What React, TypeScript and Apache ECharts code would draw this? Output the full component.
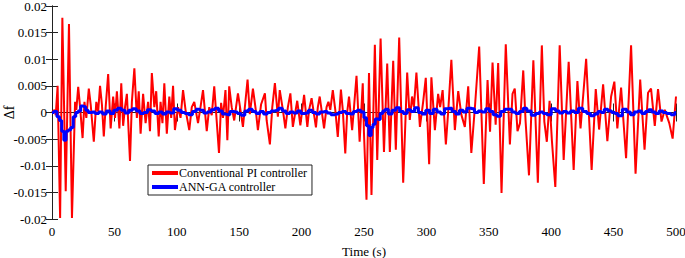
import React, { useEffect, useRef } from "react";
import * as echarts from "echarts";

const xTicks = [0, 50, 100, 150, 200, 250, 300, 350, 400, 450, 500];
const yMin = -0.02;
const yMax = 0.02;

const redTime = [
  0, 2, 3, 4.5, 6.5, 8.3, 11, 13.6, 16, 18.5, 19.5, 21, 22.5, 24.5, 26, 27.5, 29.5, 31, 33.5, 35.5,
  37, 38.5, 40, 41.5, 43, 45, 47, 49, 50.5, 52, 54, 55.5, 57, 58.5, 60, 62.5, 64, 66, 68, 69.5,
  71, 73, 75, 77, 78.5, 80, 82, 83.5, 85.5, 87, 88.5, 90, 92, 94, 95.5, 97, 98.5, 101, 103, 105,
  107, 110, 112, 114, 117, 119, 121, 124, 126, 128, 130, 133.8, 135.5, 137, 139, 140.5, 142, 144, 146, 149,
  151, 153, 156.7, 158.5, 161, 163, 165, 167.5, 170.6, 172, 174.6, 176.5, 178.6, 181, 182.5, 185, 187, 189,
  191, 193, 196.5, 199, 202, 204.6, 206, 208, 211.5, 213, 214.5, 216, 218, 220, 221.5, 223, 225, 227,
  229, 231.5, 233, 235, 236.5, 238, 240.5, 242, 244, 246.5, 249, 250, 252, 254, 256, 258.7, 260.6, 263.3,
  266, 268.6, 270.7, 273.4, 275.5, 278.2, 281.4, 284.6, 286.7, 288.5, 290, 292, 294.8, 297.4, 299.5, 302.2, 304, 306.8,
  309.4, 311, 313, 315.6, 317.5, 320, 322.8, 325.5, 328, 330.8, 333.5, 336, 339, 342.3, 346, 349, 351, 353,
  355.5, 357.5, 360.2, 363.6, 366.9, 369, 370.8, 373, 375, 377.6, 379.5, 382.2, 385.7, 389.3, 392.5, 394.5, 396.5, 398.7,
  400.6, 403.3, 406.8, 410, 414, 418, 421, 423.5, 428, 432.4, 435.7, 438.4, 441.6, 445, 448, 450.6, 453, 456,
  460, 464, 467.6, 471.3, 474.8, 477.6, 480, 483, 485.6, 488.4, 491, 494.6, 497.3, 500,
];

const redValue = [
  0, 0.0005, -0.0005, 0.005, -0.0198, 0.0178, -0.0148, 0.0166, -0.0198, 0.002, 0.0005, 0.0048, 0.001, -0.0048, 0.002, -0.001, 0.0045, 0.0015, -0.0055, 0.002,
  0.0002, 0.005, 0.0015, -0.0045, 0.001, 0.0072, -0.003, 0.003, -0.001, 0.004, -0.003, 0.0055, -0.0025, 0.001, 0.0035, -0.0091, 0.002, 0.0083, -0.001, 0.004,
  -0.004, 0.0035, -0.002, 0.002, -0.0035, 0.0074, 0.001, 0.004, -0.0045, 0.002, -0.002, 0.0055, -0.004, 0.003, -0.001, 0.005, -0.0033, 0.001, -0.001, 0.0042,
  0.0005, -0.0033, 0.001, 0.002, -0.002, 0.001, 0.0042, -0.0035, 0.001, -0.0005, 0.0049, -0.0076, 0.0018, -0.001, 0.0042, -0.0052, 0.0049, 0.001, -0.0015, 0.0036,
  0.0005, -0.0027, 0.0062, -0.0003, 0.0045, 0.001, -0.0033, 0.0015, 0.0036, -0.0015, -0.006, 0.001, 0.0055, -0.0008, 0.0042, 0.0005, -0.003, 0.001,
  0.0036, -0.0027, 0.0022, -0.0024, 0.0033, -0.0027, 0.0005, 0.0027, -0.0028, 0.001, 0.003, 0.0005, -0.003, 0.001, 0.002, 0.0005, 0.0042, 0.0005,
  -0.0046, 0.0043, 0.0005, -0.0077, 0, 0.003, -0.0033, 0.001, 0.0069, -0.0055, 0.0055, -0.004, -0.0164, 0.0074, -0.0155, 0.0127, -0.0089, 0.0139,
  -0.0074, 0.0092, -0.0074, 0.0097, -0.007, 0.0141, -0.0132, 0.0075, -0.0014, 0.003, 0.001, 0.0075, -0.0027, 0.002, 0.0065, -0.0097, 0.0066, -0.0033,
  0.0035, 0.001, 0.0042, -0.006, 0.0003, 0.0099, -0.0033, 0.004, -0.0004, -0.0027, 0.0049, -0.0076, 0.0014, 0.0124, -0.0134, 0.0061, -0.0036, 0.0094,
  -0.0023, 0.0093, -0.0151, 0.0128, -0.006, 0.0035, 0.0045, -0.0035, -0.002, 0.0079, -0.0017, -0.0118, 0.0098, -0.0132, 0.0126, -0.0017, -0.0055, 0.0022,
  -0.0054, -0.014, 0.0126, -0.0089, 0.0095, -0.0108, 0.0059, -0.003, 0.0101, -0.0108, 0.0044, -0.0032, 0.0053, -0.0054, 0.003, 0.0058, -0.003, 0.0047,
  -0.0086, 0.0126, -0.0115, 0.0062, -0.007, 0.0037, 0.0045, -0.0025, 0.0044, -0.0017, 0.0005, -0.002, -0.0049, 0.003,
];

const blueTime = [
  0, 3, 5, 7, 8.5, 10.5, 12, 14, 16, 18, 20, 22, 24, 26, 28, 30, 33, 36, 39, 42,
  45, 48, 51, 54, 57, 60, 63, 66, 69, 72, 75, 78, 81, 84, 87, 90, 93, 96, 99, 102,
  105, 108, 111, 114, 117, 120, 123, 126, 129, 132, 135, 138, 141, 144, 147, 150, 153, 156, 159, 162,
  165, 168, 171, 174, 177, 180, 183, 186, 189, 192, 195, 198, 201, 204, 207, 210, 213, 216, 219, 222,
  225, 228, 231, 234, 237, 240, 243, 246, 249, 251, 253, 255, 256.5, 258, 260, 262, 264, 266, 268, 271,
  274, 277, 280, 283, 286, 289, 292, 295, 298, 301, 304, 307, 310, 313, 316, 319, 322, 325, 328, 331,
  334, 337, 340, 343, 346, 349, 352, 355, 358, 361, 364, 367, 370, 373, 376, 379, 382, 386, 389, 392,
  395, 398, 402, 405, 408, 411, 414, 417, 420, 423.5, 427, 430, 433, 436, 439, 441, 444, 447, 450, 452,
  455, 459, 462, 465, 468, 471, 474, 477, 479, 482, 485, 488, 491, 494, 498, 500,
];

const blueValue = [
  0, 0.0002, -0.0008, -0.0015, -0.0035, -0.0052, -0.0035, -0.0033, -0.0028, -0.0008, 0, 0.0003, 0.0012, 0.0011, 0.0004, 0, 0.0001, -0.0002, 0.0001, -0.0003,
  0.0003, -0.0002, 0.0004, 0.0008, 0.0004, -0.0001, 0.0004, 0.0007, 0.0003, -0.0002, 0, 0.0005, 0.0003, -0.0002, 0.0001, -0.0003, 0.0001, -0.0001, 0.0007, 0.0004,
  0, -0.0002, -0.0004, 0.0002, 0.0006, 0.0004, -0.0001, 0.0001, 0.0005, 0.0008, 0.0003, -0.0003, -0.0004, 0.0002, 0.0001, -0.0002, -0.0005, 0.0003, 0.0006, 0.0002,
  -0.0002, 0.0002, -0.0003, 0, 0.0003, 0.0004, 0.0008, 0.0003, -0.0002, 0.0001, -0.0001, 0.0003, -0.0002, -0.0001, 0.0004, 0, -0.0003, 0.0001, 0.0002, -0.0001,
  -0.0004, -0.0003, 0, 0.0002, -0.0002, -0.0003, 0.0002, 0.0004, 0.0001, -0.001, -0.0025, -0.0043, -0.0028, -0.0022, -0.0012, -0.0013, -0.0002, 0.0003, 0.0006, -0.0003,
  0.0004, 0.0009, 0.0002, -0.0002, 0.0005, 0.0002, 0.0009, 0, -0.0003, 0.0004, -0.0002, 0.0006, 0.0001, -0.0003, 0.0007, 0.0008, 0.0002, -0.0003, 0.0004, 0.0001,
  0.0008, 0.0007, 0, 0.0003, 0.0001, 0.0007, 0.0002, -0.0004, -0.0007, 0.0002, 0.0006, 0.0006, 0.0001, -0.0002, 0.0002, 0.0008, 0.0003, -0.0005, -0.0002, 0.0001,
  -0.0002, -0.0004, 0.0007, 0.0003, -0.0001, 0.0002, -0.0001, 0.0003, 0, 0.0008, 0.0002, -0.0002, -0.0006, -0.0003, 0.0002, 0, 0.0006, 0.0003, 0, -0.0002,
  -0.0006, 0.0006, 0.0001, -0.0004, 0.0001, 0.0003, -0.0002, 0.0002, 0.0005, 0.0001, -0.0002, 0.0003, 0, -0.0002, -0.0004, 0,
];

const legendNames = ["Conventional PI controller", "ANN-GA controller"];
const FONT = "Times New Roman, Liberation Serif, Tinos, DejaVu Serif, serif";

export default function App() {
  const ref = useRef<HTMLDivElement>(null);
  useEffect(() => {
    if (!ref.current) return;
    const chart = echarts.init(ref.current, undefined, { renderer: "svg" });
    const redData = redTime.map((t, i) => [t, redValue[i]]);
    const blueData = blueTime.map((t, i) => [t, blueValue[i]]);
    const axisLine = { show: true, lineStyle: { color: "#222", width: 1 } };
    const fmtY = (v: number) => String(+v.toFixed(3));
    chart.setOption({
      animation: false,
      backgroundColor: "#fff",
      textStyle: { fontFamily: FONT },
      grid: { left: 52, right: 9, top: 6, bottom: 39, containLabel: false, outerBoundsMode: "none" },
      legend: {
        data: legendNames,
        orient: "vertical",
        left: 148,
        top: 165,
        icon: "rect",
        itemWidth: 26,
        itemHeight: 4,
        itemGap: 2,
        padding: [2, 5, 2, 4],
        borderColor: "#222",
        borderWidth: 1,
        backgroundColor: "#fff",
        textStyle: { fontFamily: FONT, fontSize: 12, color: "#000", padding: [0, 0, 0, -4] },
      },
      xAxis: [
        {
          type: "value",
          min: 0,
          max: 500,
          interval: 50,
          position: "bottom",
          axisLine,
          axisTick: { show: true, inside: true, length: 9, lineStyle: { color: "#222" } },
          axisLabel: { fontFamily: FONT, fontSize: 13, color: "#000", margin: 6 },
          splitLine: { show: false },
          name: "Time (s)",
          nameLocation: "middle",
          nameGap: 26,
          nameMoveOverlap: false,
          nameTextStyle: { fontFamily: FONT, fontSize: 13, color: "#000" },
        },
        {
          type: "value",
          min: 0,
          max: 500,
          interval: 50,
          position: "top",
          axisLine,
          axisTick: { show: true, inside: true, length: 9, lineStyle: { color: "#222" } },
          axisLabel: { show: false },
          splitLine: { show: false },
        },
      ],
      yAxis: [
        {
          type: "value",
          min: yMin,
          max: yMax,
          interval: 0.005,
          position: "left",
          axisLine,
          axisTick: { show: true, inside: true, length: 6, lineStyle: { color: "#222" } },
          axisLabel: { fontFamily: FONT, fontSize: 13, color: "#000", margin: 5, formatter: fmtY },
          splitLine: { show: false },
          name: "\u0394f",
          nameLocation: "middle",
          nameGap: 36,
          nameRotate: 90,
          nameMoveOverlap: false,
          nameTextStyle: { fontFamily: FONT, fontSize: 14, color: "#000" },
        },
        {
          type: "value",
          min: yMin,
          max: yMax,
          interval: 0.005,
          position: "right",
          axisLine,
          axisTick: { show: true, inside: true, length: 6, lineStyle: { color: "#222" } },
          axisLabel: { show: false },
          splitLine: { show: false },
        },
      ],
      series: [
        {
          name: legendNames[0],
          type: "line",
          data: redData,
          showSymbol: false,
          symbol: "none",
          lineStyle: { color: "#ff0000", width: 2 },
          itemStyle: { color: "#ff0000" },
          z: 2,
        },
        {
          name: legendNames[1],
          type: "line",
          data: blueData,
          showSymbol: false,
          symbol: "none",
          step: "middle",
          lineStyle: { color: "#0000ff", width: 3 },
          itemStyle: { color: "#0000ff" },
          z: 3,
        },
      ],
    });
    return () => chart.dispose();
  }, []);
  return (
    <div
      ref={ref}
      style={{ position: "fixed", left: 0, top: 0, width: 685, height: 258 }}
    />
  );
}

void xTicks;
